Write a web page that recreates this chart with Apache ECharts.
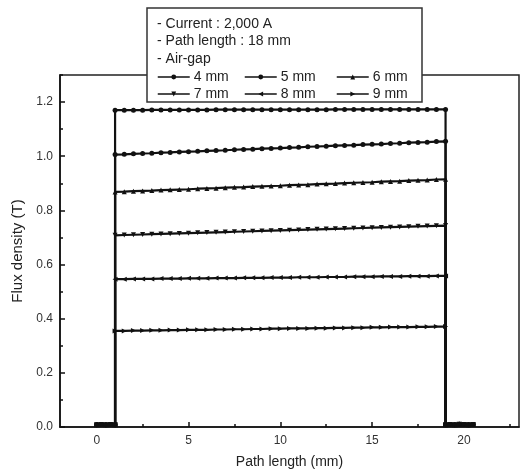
<!DOCTYPE html>
<html>
<head>
<meta charset="utf-8">
<script src="https://cdn.jsdelivr.net/npm/echarts@6/dist/echarts.min.js"></script>
<style>
  html, body { margin: 0; padding: 0; background: #fff; }
  #chart { width: 528px; height: 475px; }
</style>
</head>
<body>
<div id="chart"></div>
<script>
// Positions along the flux path (mm): the leakage region before the core,
// the 1–19 mm core span, and the leakage region after it.
const pathMm = [
  0, 0.25, 0.5, 0.75, 1,
  1, 1.5, 2, 2.5, 3, 3.5, 4, 4.5, 5, 5.5, 6, 6.5, 7, 7.5, 8, 8.5, 9, 9.5,
  10, 10.5, 11, 11.5, 12, 12.5, 13, 13.5, 14, 14.5, 15, 15.5, 16, 16.5, 17, 17.5, 18, 18.5, 19,
  19, 19.25, 19.5, 19.75, 20, 20.25, 20.5
];

// Near-zero flux outside the core
const leakLeft = [0.008, 0.009, 0.008, 0.009, 0.008];
const leakRight = [0.008, 0.009, 0.008, 0.010, 0.009, 0.008, 0.009];

// Flux density inside the core (T), one array per air-gap
const gap4mm = [
  1.170, 1.170, 1.170, 1.170, 1.171, 1.171, 1.171, 1.171, 1.171, 1.171,
  1.171, 1.172, 1.172, 1.172, 1.172, 1.172, 1.172, 1.172, 1.172, 1.172,
  1.172, 1.172, 1.172, 1.172, 1.173, 1.173, 1.173, 1.173, 1.173, 1.173,
  1.173, 1.173, 1.173, 1.173, 1.173, 1.173, 1.173
];
const gap5mm = [
  1.006, 1.007, 1.009, 1.010, 1.011, 1.013, 1.014, 1.016, 1.017, 1.018,
  1.020, 1.021, 1.022, 1.024, 1.025, 1.026, 1.028, 1.029, 1.030, 1.032,
  1.033, 1.035, 1.036, 1.037, 1.039, 1.040, 1.041, 1.043, 1.044, 1.045,
  1.047, 1.048, 1.050, 1.051, 1.052, 1.054, 1.055
];
const gap6mm = [
  0.868, 0.869, 0.871, 0.872, 0.873, 0.875, 0.876, 0.877, 0.878, 0.880,
  0.881, 0.882, 0.884, 0.885, 0.886, 0.888, 0.889, 0.890, 0.891, 0.893,
  0.894, 0.895, 0.897, 0.898, 0.899, 0.901, 0.902, 0.903, 0.904, 0.906,
  0.907, 0.908, 0.910, 0.911, 0.912, 0.914, 0.915
];
const gap7mm = [
  0.708, 0.709, 0.710, 0.711, 0.712, 0.713, 0.714, 0.715, 0.716, 0.717,
  0.718, 0.719, 0.720, 0.721, 0.722, 0.723, 0.724, 0.725, 0.726, 0.727,
  0.728, 0.729, 0.730, 0.731, 0.732, 0.733, 0.734, 0.735, 0.736, 0.737,
  0.738, 0.739, 0.740, 0.741, 0.742, 0.743, 0.744
];
const gap8mm = [
  0.546, 0.546, 0.547, 0.547, 0.547, 0.548, 0.548, 0.548, 0.549, 0.549,
  0.549, 0.550, 0.550, 0.550, 0.551, 0.551, 0.551, 0.552, 0.552, 0.552,
  0.553, 0.553, 0.553, 0.554, 0.554, 0.554, 0.555, 0.555, 0.555, 0.556,
  0.556, 0.556, 0.557, 0.557, 0.557, 0.558, 0.558
];
const gap9mm = [
  0.355, 0.355, 0.356, 0.356, 0.357, 0.357, 0.358, 0.358, 0.359, 0.359,
  0.359, 0.360, 0.360, 0.361, 0.361, 0.362, 0.362, 0.363, 0.363, 0.364,
  0.364, 0.364, 0.365, 0.365, 0.366, 0.366, 0.367, 0.367, 0.368, 0.368,
  0.369, 0.369, 0.369, 0.370, 0.370, 0.371, 0.371
];

const seriesNames = ['4 mm', '5 mm', '6 mm', '7 mm', '8 mm', '9 mm'];
const seriesCore = [gap4mm, gap5mm, gap6mm, gap7mm, gap8mm, gap9mm];
const seriesSymbols = ['circle', 'circle', 'triangle', 'triangle', 'triangle', 'triangle'];
const seriesRotate = [0, 0, 0, 180, 90, -90];

const xMajorTicks = [0, 5, 10, 15, 20];
const xMinorTicks = [2.5, 7.5, 12.5, 17.5, 22.5];
const yMajorTicks = [0, 0.2, 0.4, 0.6, 0.8, 1.0, 1.2];
const yMinorTicks = [0.1, 0.3, 0.5, 0.7, 0.9, 1.1, 1.3];

const noteLines = ['- Current : 2,000 A', '- Path length : 18 mm', '- Air-gap'];

const FONT = 'Liberation Sans, Arial, sans-serif';
const INK = '#111';

const chart = echarts.init(document.getElementById('chart'), null, { renderer: 'canvas' });

const series = seriesNames.map((name, i) => {
  const ys = leakLeft.concat(seriesCore[i], leakRight);
  return {
    name,
    type: 'line',
    xAxisIndex: 0,
    yAxisIndex: 0,
    data: pathMm.map((x, k) => [x, ys[k]]),
    symbol: seriesSymbols[i],
    symbolRotate: seriesRotate[i],
    symbolSize: 5,
    showSymbol: true,
    animation: false,
    lineStyle: { color: INK, width: 2.2 },
    itemStyle: { color: INK, borderWidth: 0 },
    z: 3
  };
});

// One legend block per entry, laid out as two rows of three
const legendCols = [157, 244, 336];
const legendRows = [70, 87];
const legends = seriesNames.map((name, i) => ({
  data: [name],
  left: legendCols[i % 3],
  top: legendRows[Math.floor(i / 3)],
  itemWidth: 32,
  itemHeight: 6,
  padding: 0,
  selectedMode: false,
  z: 6,
  itemStyle: { borderWidth: 0 },
  lineStyle: { width: 1.5 },
  textStyle: { fontFamily: FONT, fontSize: 14, color: '#222', padding: [0, 0, 0, -1] }
}));

const axisLine = { show: true, onZero: false, lineStyle: { color: INK, width: 1.6 } };
const hiddenLine = { show: false, onZero: false };

chart.setOption({
  backgroundColor: '#fff',
  animation: false,
  grid: {
    left: 60, right: 9, top: 75, bottom: 48,
    show: true, borderColor: '#222', borderWidth: 1.5, backgroundColor: 'transparent'
  },
  legend: legends,
  xAxis: [
    {
      type: 'value', min: -2, max: 23,
      name: 'Path length (mm)', nameLocation: 'middle', nameGap: 28,
      nameTextStyle: { fontFamily: FONT, fontSize: 14, color: '#222' },
      axisLine,
      splitLine: { show: false },
      axisTick: { show: true, inside: true, length: 5, customValues: xMajorTicks, lineStyle: { color: INK, width: 1.5 } },
      axisLabel: { customValues: xMajorTicks, fontFamily: FONT, fontSize: 12, color: '#333', margin: 8 }
    },
    {
      type: 'value', min: -2, max: 23, position: 'bottom',
      axisLine: hiddenLine,
      splitLine: { show: false },
      axisTick: { show: true, inside: true, length: 3, customValues: xMinorTicks, lineStyle: { color: INK, width: 1.5 } },
      axisLabel: { show: false }
    }
  ],
  yAxis: [
    {
      type: 'value', min: 0, max: 1.3,
      name: 'Flux density (T)', nameLocation: 'middle', nameGap: 33,
      nameTextStyle: { fontFamily: FONT, fontSize: 15, color: '#222' },
      axisLine,
      splitLine: { show: false },
      axisTick: { show: true, inside: true, length: 5, customValues: yMajorTicks, lineStyle: { color: INK, width: 1.5 } },
      axisLabel: {
        customValues: yMajorTicks, fontFamily: FONT, fontSize: 12, color: '#333', margin: 7,
        formatter: v => v.toFixed(1)
      }
    },
    {
      type: 'value', min: 0, max: 1.3, position: 'left',
      axisLine: hiddenLine,
      splitLine: { show: false },
      axisTick: { show: true, inside: true, length: 3, customValues: yMinorTicks, lineStyle: { color: INK, width: 1.5 } },
      axisLabel: { show: false }
    }
  ],
  graphic: [
    {
      type: 'rect', z: 5,
      shape: { x: 147, y: 8, width: 275, height: 94 },
      style: { fill: '#fff', stroke: '#333', lineWidth: 1.5 }
    }
  ].concat(noteLines.map((t, i) => ({
    type: 'text', z: 6,
    x: 157, y: 24 + i * 17.5,
    style: { text: t, fontFamily: FONT, fontSize: 14, fill: '#222', verticalAlign: 'middle' }
  }))),
  series
});
</script>
</body>
</html>
